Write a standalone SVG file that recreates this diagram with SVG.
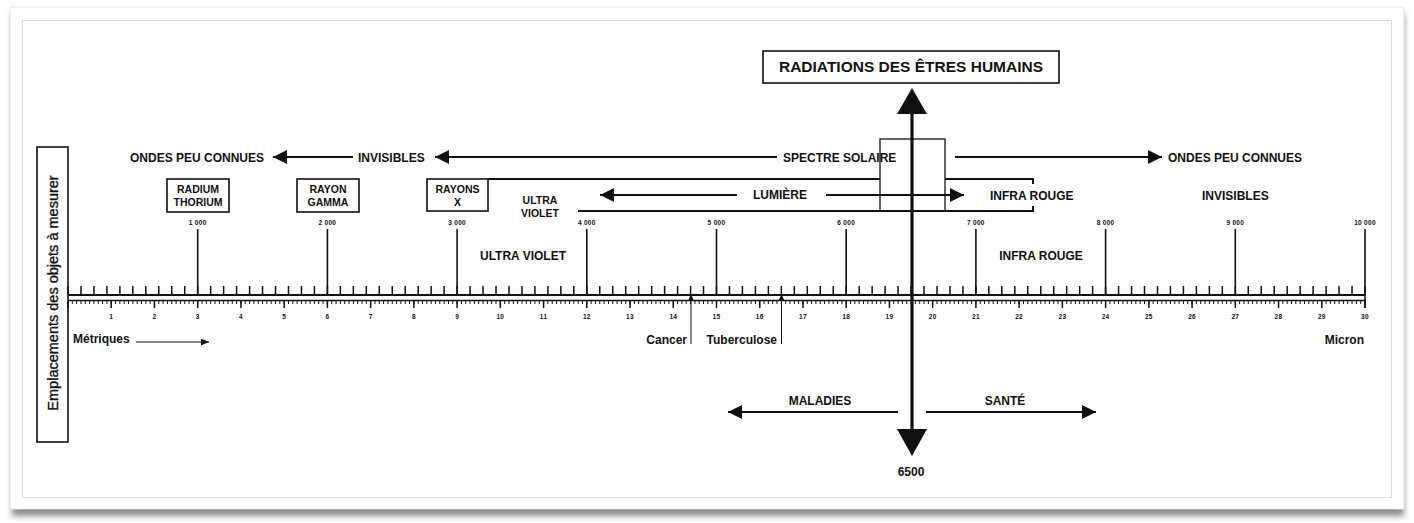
<svg xmlns="http://www.w3.org/2000/svg" width="1414" height="523" viewBox="0 0 1414 523">
<style>
.t{font-family:"Liberation Sans",Arial,sans-serif;font-weight:bold;fill:#111}
.c{text-anchor:middle}
.e{text-anchor:end}
.s12{font-size:12px}
.s11{font-size:10.5px}
.tiny{font-size:6.5px;letter-spacing:0.3px}
.ln{stroke:#111;fill:none}
.box{stroke:#111;stroke-width:1.6;fill:#fff}
</style>
<defs>
<marker id="ah" viewBox="0 0 14 14" refX="14" refY="7" markerWidth="14" markerHeight="14" markerUnits="userSpaceOnUse" orient="auto"><path d="M0,0 L14,7 L0,14 z" fill="#111"/></marker>
<marker id="ahs" viewBox="0 0 8 7" refX="8" refY="3.5" markerWidth="8" markerHeight="7" markerUnits="userSpaceOnUse" orient="auto"><path d="M0,0 L8,3.5 L0,7 z" fill="#111"/></marker>
<filter id="blur" x="-5%" y="-5%" width="110%" height="110%"><feGaussianBlur stdDeviation="3"/></filter>
</defs>
<rect width="1414" height="523" fill="#fff"/>
<g id="frame">
<rect x="12" y="14" width="1392" height="502" fill="#8a8a8a" filter="url(#blur)"/>
<rect x="10" y="7" width="1394" height="502" fill="#fff" stroke="#e4e4e4"/>
<rect x="22.5" y="20.5" width="1369" height="477" fill="none" stroke="#dcdcdc"/>
</g>

<g id="axis-label">
<rect class="box" x="37" y="147" width="31" height="295" fill="none"/>
<text x="53" y="293" font-family="Liberation Sans, Arial, sans-serif" font-size="14.5" fill="#111" stroke="#111" stroke-width="0.35" text-anchor="middle" dominant-baseline="central" transform="rotate(-90 53 293)">Emplacements des objets à mesurer</text>
</g>

<g id="ruler">
<line class="ln" x1="68" y1="295" x2="1365.5" y2="295" stroke-width="2"/>
<line class="ln" x1="68" y1="300.5" x2="1366" y2="300.5" stroke-width="1.3"/>
<line class="ln" x1="67.25" y1="290" x2="1366" y2="290" stroke-width="8" stroke-dasharray="1.5 11.47"/>
<line class="ln" x1="67.5" y1="302.5" x2="1366" y2="302.5" stroke-width="3" stroke-dasharray="1 3.3233"/>
<line class="ln" x1="67.25" y1="304.25" x2="1366" y2="304.25" stroke-width="7.5" stroke-dasharray="1.5 41.7333"/>
<path class="ln" stroke-width="1.6" d="M197.7,229V295 M327.4,229V295 M457.1,229V295 M586.8,229V295 M716.5,229V295 M846.2,229V295 M975.9,229V295 M1105.6,229V295 M1235.3,229V295 M1365,229V308"/>
</g>

<g id="ruler-labels" class="t tiny c">
<text x="197.7" y="225">1 000</text>
<text x="327.4" y="225">2 000</text>
<text x="457.1" y="225">3 000</text>
<text x="586.8" y="225">4 000</text>
<text x="716.5" y="225">5 000</text>
<text x="846.2" y="225">6 000</text>
<text x="975.9" y="225">7 000</text>
<text x="1105.6" y="225">8 000</text>
<text x="1235.3" y="225">9 000</text>
<text x="1365" y="225">10 000</text>
<text x="111.2" y="319">1</text><text x="154.5" y="319">2</text><text x="197.7" y="319">3</text><text x="240.9" y="319">4</text><text x="284.2" y="319">5</text>
<text x="327.4" y="319">6</text><text x="370.6" y="319">7</text><text x="413.9" y="319">8</text><text x="457.1" y="319">9</text><text x="500.3" y="319">10</text>
<text x="543.6" y="319">11</text><text x="586.8" y="319">12</text><text x="630" y="319">13</text><text x="673.3" y="319">14</text><text x="716.5" y="319">15</text>
<text x="759.7" y="319">16</text><text x="803" y="319">17</text><text x="846.2" y="319">18</text><text x="889.4" y="319">19</text><text x="932.7" y="319">20</text>
<text x="975.9" y="319">21</text><text x="1019.1" y="319">22</text><text x="1062.4" y="319">23</text><text x="1105.6" y="319">24</text><text x="1148.8" y="319">25</text>
<text x="1192.1" y="319">26</text><text x="1235.3" y="319">27</text><text x="1278.5" y="319">28</text><text x="1321.8" y="319">29</text><text x="1365" y="319">30</text>
</g>

<g id="title">
<rect class="box" x="763" y="51" width="296" height="32"/>
<text class="t c" x="911" y="72" font-size="15.5">RADIATIONS DES ÊTRES HUMAINS</text>
</g>

<g id="radium">
<rect class="box" x="167" y="179" width="62" height="33"/>
<text class="t c s11" x="198" y="193">RADIUM</text>
<text class="t c s11" x="198" y="206">THORIUM</text>
</g>
<g id="gamma">
<rect class="box" x="297" y="179" width="62" height="33"/>
<text class="t c s11" x="328" y="193">RAYON</text>
<text class="t c s11" x="328" y="206">GAMMA</text>
</g>
<g id="rayons-x">
<rect class="box" x="427" y="179" width="61" height="32"/>
<text class="t c s11" x="457.5" y="193">RAYONS</text>
<text class="t c s11" x="457.5" y="206">X</text>
</g>

<g id="spectre-box">
<rect x="880" y="139" width="65" height="72" fill="none" stroke="#333" stroke-width="1.5"/>
</g>

<g id="labels">
<text class="t s12" x="130" y="162">ONDES PEU CONNUES</text>
<text class="t s12" x="358" y="162">INVISIBLES</text>
<text class="t s12" x="783" y="162">SPECTRE SOLAIRE</text>
<text class="t s12" x="1168" y="162">ONDES PEU CONNUES</text>
<text class="t s12" x="753" y="199">LUMIÈRE</text>
<text class="t s12" x="990" y="200">INFRA ROUGE</text>
<text class="t s12" x="1202" y="200">INVISIBLES</text>
<text class="t c s11" x="540" y="204">ULTRA</text>
<text class="t c s11" x="540" y="217">VIOLET</text>
<text class="t c s12" x="523" y="260">ULTRA VIOLET</text>
<text class="t c s12" x="1041" y="260">INFRA ROUGE</text>
<text class="t s12" x="73" y="343">Métriques</text>
<text class="t e s12" x="687" y="344">Cancer</text>
<text class="t e s12" x="777" y="344">Tuberculose</text>
<text class="t e s12" x="1364" y="344">Micron</text>
<text class="t c s12" x="820" y="405">MALADIES</text>
<text class="t c s12" x="1005" y="405">SANTÉ</text>
<text class="t c s12" x="911" y="476">6500</text>
</g>

<g id="connectors">
<line class="ln" stroke-width="2" x1="353" y1="157" x2="273" y2="157" marker-end="url(#ah)"/>
<line class="ln" stroke-width="2" x1="777" y1="157" x2="435" y2="157" marker-end="url(#ah)"/>
<line class="ln" stroke-width="2" x1="955" y1="157" x2="1162" y2="157" marker-end="url(#ah)"/>
<line class="ln" stroke-width="2" x1="737" y1="195" x2="600" y2="195" marker-end="url(#ah)"/>
<line class="ln" stroke-width="2" x1="826" y1="195" x2="964" y2="195" marker-end="url(#ah)"/>
<path class="ln" stroke-width="2" d="M488,179H880 M945,179H1033V184 M578,211H1033V206"/>
<line class="ln" stroke-width="2" x1="898" y1="412" x2="728" y2="412" marker-end="url(#ah)"/>
<line class="ln" stroke-width="2" x1="926" y1="412" x2="1096" y2="412" marker-end="url(#ah)"/>
<line class="ln" stroke-width="1" x1="136" y1="342" x2="209" y2="342" marker-end="url(#ahs)"/>
<line class="ln" stroke-width="1" x1="691" y1="300" x2="691" y2="344"/>
<polygon points="691,294 688,301 694,301" fill="#111"/>
<line class="ln" stroke-width="1" x1="781.5" y1="300" x2="781.5" y2="344"/>
<polygon points="781.5,294 778.5,301 784.5,301" fill="#111"/>
<line class="ln" stroke-width="3.2" x1="912" y1="110" x2="912" y2="432"/>
<polygon points="912,88 897,114 927,114" fill="#111"/>
<polygon points="912,456 897,429 927,429" fill="#111"/>
</g>
</svg>
